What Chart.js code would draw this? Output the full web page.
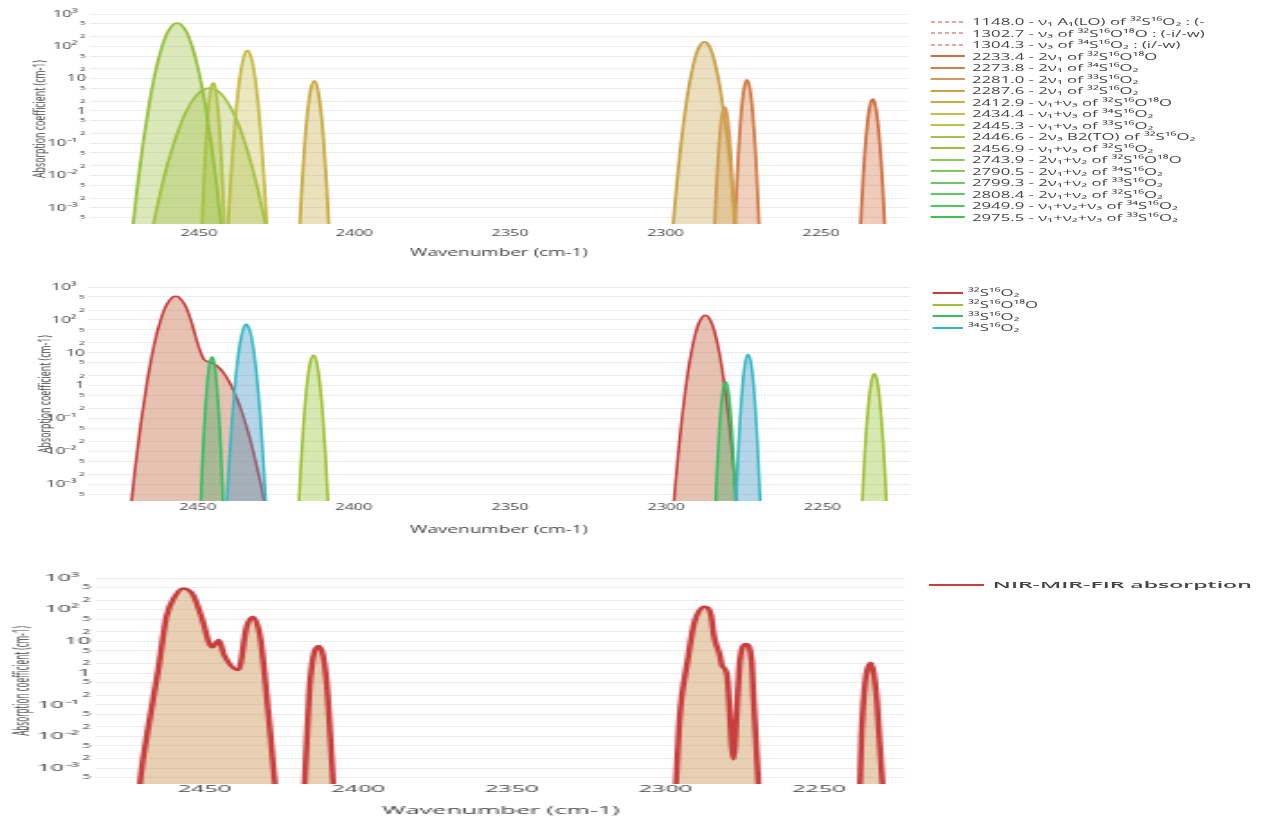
<!DOCTYPE html>
<html>
<head>
<meta charset="utf-8">
<title>SO2 absorption 2220–2485 cm-1</title>
<script src="https://cdn.jsdelivr.net/npm/chart.js@4.4.1/dist/chart.umd.min.js"></script>
<style>
  html, body { margin: 0; padding: 0; background: #fff; }
  body { width: 1265px; height: 820px; position: relative; overflow: hidden; font-family: 'Open Sans', sans-serif; }
  .panel { position: absolute; left: 0; transform-origin: 0 0; }
  .panel canvas { position: absolute; left: 0; top: 0; }
  .legend { position: absolute; color: #444; font-family: 'Open Sans', sans-serif; white-space: nowrap; }
  .legend .row { display: flex; align-items: center; }
  .legend .swatch { display: inline-block; flex: none; }
  .legend .txt { line-height: 1; }
</style>
</head>
<body>

<div class="panel" id="panelBands" style="top:0;width:703px;height:265px;transform:scaleX(1.8)">
  <canvas id="chartBands" width="703" height="265" style="width:703px;height:265px"></canvas>
  <div class="legend" id="legendBands"></div>
</div>

<div class="panel" id="panelIso" style="top:270px;width:703px;height:270px;transform:scaleX(1.8)">
  <canvas id="chartIso" width="703" height="270" style="width:703px;height:270px"></canvas>
  <div class="legend" id="legendIso"></div>
</div>

<div class="panel" id="panelTotal" style="top:560px;width:527px;height:260px;transform:scaleX(2.4)">
  <canvas id="chartTotal" width="527" height="260" style="width:527px;height:260px"></canvas>
  <div class="legend" id="legendTotal"></div>
</div>

<script>
// ---- axes ----
const wavenumberRange = [2222, 2485];
const wavenumberTicks = [2450, 2400, 2350, 2300, 2250];
const absorptionRange = [3.16e-4, 1000];
const absorptionTicks = [5e-4, 1e-3, 2e-3, 5e-3, 1e-2, 2e-2, 5e-2, 0.1, 0.2, 0.5,
                         1, 2, 5, 10, 20, 50, 100, 200, 500, 1000];

// ---- individual bands (wavenumber in cm-1, absorption coefficient in cm-1) ----
const wn_2456_9  = [2472, 2470, 2468, 2466, 2464, 2462, 2460, 2458, 2456.9, 2456, 2454, 2452, 2450, 2448, 2446, 2444, 2442];
const abs_2456_9 = [5.5e-5, 3.0e-3, 0.093, 1.6, 16, 88, 280, 490, 525, 490, 280, 88, 16, 1.6, 0.093, 3.0e-3, 5.5e-5];

const wn_2446_6  = [2468, 2466, 2464, 2462, 2460, 2458, 2456, 2454, 2452, 2450, 2448, 2446.6, 2445, 2443, 2441, 2439, 2437, 2435, 2433, 2431, 2429, 2427];
const abs_2446_6 = [5.8e-6, 6.6e-5, 5.9e-4, 4.3e-3, 0.024, 0.10, 0.36, 1.0, 2.1, 3.6, 4.8, 5.1, 4.8, 3.5, 2.0, 0.91, 0.32, 0.091, 0.020, 3.5e-3, 4.8e-4, 5.1e-5];

const wn_2445_3  = [2449.5, 2449, 2448.5, 2448, 2447.5, 2447, 2446.5, 2446, 2445.3, 2445, 2444.5, 2444, 2443.5, 2443, 2442.5, 2442, 2441.5];
const abs_2445_3 = [1.1e-5, 2.3e-4, 3.5e-3, 0.033, 0.22, 0.95, 2.8, 5.6, 7.4, 6.5, 3.9, 1.5, 0.42, 0.074, 8.9e-3, 7.2e-4, 3.9e-5];

const wn_2434_4  = [2441, 2440, 2439, 2438, 2437, 2436, 2435, 2434.4, 2434, 2433, 2432, 2431, 2430, 2429, 2428, 2427];
const abs_2434_4 = [6.3e-5, 3.2e-3, 0.083, 1.15, 8.3, 32, 65, 73, 69, 39, 11.5, 1.8, 0.15, 6.5e-3, 1.5e-4, 2e-6];

const wn_2412_9  = [2418, 2417, 2416, 2415, 2414, 2412.9, 2412, 2411, 2410, 2409, 2408, 2407];
const abs_2412_9 = [4e-5, 3.0e-3, 0.091, 1.07, 4.8, 8.5, 5.8, 1.55, 0.16, 6.5e-3, 1.0e-4, 6e-7];

const wn_2287_6  = [2299, 2298, 2297, 2296, 2295, 2294, 2293, 2292, 2291, 2290, 2289, 2288, 2287.6, 2287, 2286, 2285, 2284, 2283, 2282, 2281, 2280, 2279, 2278, 2277, 2276];
const abs_2287_6 = [5e-6, 9e-5, 1.2e-3, 0.012, 0.098, 0.59, 2.8, 10, 28, 62, 103, 134, 138, 134, 103, 62, 28, 10, 2.8, 0.59, 0.098, 0.012, 1.2e-3, 9e-5, 5e-6];

const wn_2281_0  = [2284.5, 2284, 2283.5, 2283, 2282.5, 2282, 2281.5, 2281, 2280.5, 2280, 2279.5, 2279, 2278.5, 2278, 2277.5];
const abs_2281_0 = [5e-5, 7.4e-4, 7.2e-3, 0.047, 0.2, 0.56, 1.05, 1.3, 1.05, 0.56, 0.2, 0.047, 7.2e-3, 7.4e-4, 5e-5];

const wn_2273_8  = [2278, 2277.5, 2277, 2276.5, 2276, 2275.5, 2275, 2274.5, 2273.8, 2273, 2272.5, 2272, 2271.5, 2271, 2270.5, 2270, 2269.5];
const abs_2273_8 = [4.7e-5, 7.1e-4, 7.8e-3, 0.059, 0.32, 1.23, 3.4, 6.5, 9.1, 5.9, 2.8, 0.98, 0.23, 0.041, 4.9e-3, 4.3e-4, 2.6e-5];

const wn_2233_4  = [2238, 2237.5, 2237, 2236.5, 2236, 2235.5, 2235, 2234.5, 2234, 2233.4, 2233, 2232.5, 2232, 2231.5, 2231, 2230.5, 2230, 2229.5, 2229];
const abs_2233_4 = [7e-6, 1e-4, 9.8e-4, 7.2e-3, 0.04, 0.16, 0.49, 1.1, 1.85, 2.3, 2.1, 1.4, 0.71, 0.26, 0.072, 0.015, 2.3e-3, 2.6e-4, 2.1e-5];

// ---- 32S16O2 combined 2456.9 + 2446.6 region ----
const wn_32S16O2_combo  = [2472, 2470, 2468, 2466, 2464, 2462, 2460, 2458, 2456.9, 2456, 2454, 2452, 2450, 2448, 2446, 2444, 2442, 2440, 2438, 2436, 2434, 2432, 2430, 2428, 2426];
const abs_32S16O2_combo = [5.5e-5, 3.0e-3, 0.093, 1.6, 16, 88, 280, 490, 525, 490, 281, 90, 19.6, 6.4, 5.2, 4.2, 2.7, 1.4, 0.56, 0.18, 0.045, 8.7e-3, 1.3e-3, 1.6e-4, 1.5e-5];

// ---- total NIR-MIR-FIR absorption ----
const wn_total  = [2472, 2471, 2468.3, 2465.1, 2462.4, 2459.7, 2456.9, 2453.7, 2451, 2447.5, 2445.3, 2443.6, 2439, 2436.3, 2434.2, 2431.7, 2429.3, 2427.1, 2426,
                   2418.5, 2417.4, 2415.8, 2412.8, 2410.3, 2408.1, 2407,
                   2297.5, 2296.5, 2295.4, 2292.7, 2290.6, 2287.3, 2285.1, 2284.1, 2282.1, 2281.6, 2279.9, 2277.8, 2276.4, 2275.7, 2273.7, 2271.9, 2271.2, 2269.7, 2268.8,
                   2237.5, 2236.6, 2236.1, 2233.1, 2231.1, 2229.3, 2228.5];
const abs_total = [2e-5, 3.4e-4, 0.02, 1.24, 60, 257, 470, 290, 60, 6.5, 11, 3.7, 1.24, 29, 60, 11, 0.068, 3.4e-4, 1e-5,
                   1e-5, 3.4e-4, 0.37, 7.1, 0.6, 3.4e-4, 1e-5,
                   1e-5, 3.4e-4, 0.033, 2.6, 37, 123, 68, 14, 3.3, 1.8, 0.87, 1.9e-3, 0.23, 2.6, 8.3, 2.6, 0.14, 3.4e-4, 1e-5,
                   1e-5, 3.4e-4, 0.0126, 2.1, 0.14, 3.4e-4, 1e-5];

// ---- labels ----
const bandLabels = [
  '1148.0 - ν₁ A₁(LO) of ³²S¹⁶O₂ : (-',
  '1302.7 - ν₃ of ³²S¹⁶O¹⁸O : (-i/-w)',
  '1304.3 - ν₃ of ³⁴S¹⁶O₂ : (i/-w)',
  '2233.4 - 2ν₁ of ³²S¹⁶O¹⁸O',
  '2273.8 - 2ν₁ of ³⁴S¹⁶O₂',
  '2281.0 - 2ν₁ of ³³S¹⁶O₂',
  '2287.6 - 2ν₁ of ³²S¹⁶O₂',
  '2412.9 - ν₁+ν₃ of ³²S¹⁶O¹⁸O',
  '2434.4 - ν₁+ν₃ of ³⁴S¹⁶O₂',
  '2445.3 - ν₁+ν₃ of ³³S¹⁶O₂',
  '2446.6 - 2ν₃ B2(TO) of ³²S¹⁶O₂',
  '2456.9 - ν₁+ν₃ of ³²S¹⁶O₂',
  '2743.9 - 2ν₁+ν₂ of ³²S¹⁶O¹⁸O',
  '2790.5 - 2ν₁+ν₂ of ³⁴S¹⁶O₂',
  '2799.3 - 2ν₁+ν₂ of ³³S¹⁶O₂',
  '2808.4 - 2ν₁+ν₂ of ³²S¹⁶O₂',
  '2949.9 - ν₁+ν₂+ν₃ of ³⁴S¹⁶O₂',
  '2975.5 - ν₁+ν₂+ν₃ of ³³S¹⁶O₂'
];
const isotopologueLabels = ['³²S¹⁶O₂', '³²S¹⁶O¹⁸O', '³³S¹⁶O₂', '³⁴S¹⁶O₂'];
const totalLabel = 'NIR-MIR-FIR absorption';

// ---- styling ----
const FONT = "'Open Sans', sans-serif";
const bandColors = [
  [222, 100, 100], [222, 100, 100], [222, 100, 100],
  [207, 112, 66], [210, 124, 70], [212, 152, 92], [200, 163, 74],
  [200, 172, 70], [200, 188, 74], [184, 195, 74], [165, 195, 74], [152, 192, 65],
  [140, 200, 90], [125, 200, 95], [110, 200, 100], [95, 200, 100], [80, 200, 95], [65, 195, 80]
];
const isoLine = ['rgb(198,62,62)', 'rgb(160,190,50)', 'rgb(55,190,100)', 'rgb(55,185,195)'];
const isoFill = ['rgba(200,120,85,0.45)', 'rgba(150,200,60,0.4)', 'rgba(60,165,100,0.35)', 'rgba(70,150,200,0.4)'];

const rgb = (c, a) => a === undefined ? `rgb(${c[0]},${c[1]},${c[2]})` : `rgba(${c[0]},${c[1]},${c[2]},${a})`;
const pts = (wn, k) => wn.map((x, i) => ({ x, y: k[i] }));

const SUP = { '-': '⁻', '0': '⁰', '1': '¹', '2': '²', '3': '³', '4': '⁴', '5': '⁵', '6': '⁶', '7': '⁷', '8': '⁸', '9': '⁹' };
function decade(v) { return Math.floor(Math.log10(v) + 1e-6); }
function logTickLabel(v) {
  const e = decade(v);
  const m = Math.round(v / Math.pow(10, e));
  if (m !== 1) return String(m);
  if (e === 0) return '1';
  if (e === 1) return '10';
  return '10' + String(e).split('').map(ch => SUP[ch]).join('') + '\u2002';
}
function isDecade(v) { return Math.round(v / Math.pow(10, decade(v))) === 1; }

// Band grid: the three dashed bands and the overtone bands above 2700 cm-1 lie outside this window.
const bandSeries = {
  3: pts(wn_2233_4, abs_2233_4),
  4: pts(wn_2273_8, abs_2273_8),
  5: pts(wn_2281_0, abs_2281_0),
  6: pts(wn_2287_6, abs_2287_6),
  7: pts(wn_2412_9, abs_2412_9),
  8: pts(wn_2434_4, abs_2434_4),
  9: pts(wn_2445_3, abs_2445_3),
  10: pts(wn_2446_6, abs_2446_6),
  11: pts(wn_2456_9, abs_2456_9)
};

function makeChart(canvasId, datasets, g) {
  return new Chart(document.getElementById(canvasId), {
    type: 'line',
    data: { datasets },
    options: {
      responsive: false,
      animation: false,
      devicePixelRatio: 1,
      events: [],
      layout: { padding: { left: 0, top: g.top, right: g.width - g.right, bottom: 0 } },
      elements: {
        point: { radius: 0, hoverRadius: 0 },
        line: { cubicInterpolationMode: 'monotone', capBezierPoints: false, borderJoinStyle: 'round', borderCapStyle: 'round' }
      },
      plugins: { legend: { display: false }, tooltip: { enabled: false } },
      scales: {
        x: {
          type: 'linear', reverse: true, bounds: 'data',
          min: wavenumberRange[0], max: wavenumberRange[1],
          grid: { display: false, drawTicks: false },
          border: { display: false },
          afterBuildTicks: s => { s.ticks = wavenumberTicks.map(v => ({ value: v })); },
          afterFit: s => { s.height = g.height - g.bottom; },
          ticks: {
            autoSkip: false, maxRotation: 0, padding: g.xTickPad, color: '#444',
            font: { family: FONT, size: g.xTickSize, lineHeight: 1 },
            callback: v => String(v)
          },
          title: {
            display: true, text: 'Wavenumber (cm-1)', color: '#444',
            font: { family: FONT, size: g.xTitleSize, lineHeight: 1.2 },
            padding: { top: 0, bottom: g.xTitlePad }
          }
        },
        y: {
          type: 'logarithmic', bounds: 'data',
          min: absorptionRange[0], max: absorptionRange[1],
          grid: { color: '#ececec', lineWidth: 1, drawTicks: false },
          border: { display: false },
          afterBuildTicks: s => { s.ticks = absorptionTicks.map(v => ({ value: v })); },
          afterFit: s => { s.width = g.left; },
          ticks: {
            autoSkip: false, padding: g.yTickPad, color: '#444',
            font: ctx => ({ family: FONT, lineHeight: 1,
              size: (ctx.tick && !isDecade(ctx.tick.value)) ? g.yMinorSize : g.yTickSize }),
            callback: v => logTickLabel(v)
          },
          title: {
            display: true, text: 'Absorption coefficient (cm-1)', color: '#444',
            font: { family: FONT, size: g.yTitleSize, lineHeight: 1.2 },
            padding: { top: g.yTitlePad, bottom: 0 }
          }
        }
      }
    }
  });
}

// HTML legend built from the chart's own legend items
function buildLegend(chart, elId, g) {
  const el = document.getElementById(elId);
  el.style.left = g.legendX + 'px';
  el.style.top = Math.round(g.legendY - g.legendRow / 2) + 'px';
  const items = Chart.defaults.plugins.legend.labels.generateLabels(chart)
    .sort((a, b) => a.datasetIndex - b.datasetIndex);
  items.forEach(item => {
    const row = document.createElement('div');
    row.className = 'row';
    row.style.height = g.legendRow + 'px';
    const sw = document.createElement('span');
    sw.className = 'swatch';
    sw.style.width = g.swatchW + 'px';
    sw.style.height = g.swatchLine + 'px';
    const dash = item.lineDash && item.lineDash.length ? item.lineDash : null;
    if (dash) {
      const period = dash[0] + dash[1];
      sw.style.background = `repeating-linear-gradient(to right, ${item.strokeStyle} 0 ${dash[0]}px, transparent ${dash[0]}px ${period}px)`;
    } else {
      sw.style.background = item.strokeStyle;
    }
    sw.style.marginRight = g.swatchGap + 'px';
    const tx = document.createElement('span');
    tx.className = 'txt';
    tx.textContent = item.text;
    tx.style.fontSize = g.legendFont + 'px';
    if (g.legendWeight) tx.style.fontWeight = g.legendWeight;
    row.append(sw, tx);
    el.appendChild(row);
  });
}

// ---- panel 1: individual vibrational bands ----
const gBands = {
  width: 703, height: 265, left: 50, right: 504.5, top: 14, bottom: 224,
  xTickPad: 4.6, xTickSize: 9, yTickSize: 9.4, yMinorSize: 6, yTickPad: 2.2,
  xTitleSize: 10.5, xTitlePad: 5.7, yTitleSize: 8.8, yTitlePad: 16.8,
  legendX: 516.7, legendY: 21.5, legendRow: 11.5, swatchW: 19.3, swatchGap: 4, swatchLine: 2, legendFont: 9.3
};
const bandDatasets = bandLabels.map((label, i) => ({
  label,
  data: bandSeries[i] || [],
  borderColor: i < 3 ? rgb(bandColors[i], 0.6) : rgb(bandColors[i]),
  backgroundColor: rgb(bandColors[i], 0.36),
  borderDash: i < 3 ? [2.4, 1.5] : [],
  borderWidth: 1.8,
  fill: 'start',
  clip: 0,
  order: bandLabels.length - i
}));
const chartBands = makeChart('chartBands', bandDatasets, gBands);
buildLegend(chartBands, 'legendBands', gBands);

// ---- panel 2: by isotopologue ----
const gIso = {
  width: 703, height: 270, left: 49, right: 505.5, top: 17, bottom: 231,
  xTickPad: 1.6, xTickSize: 9, yTickSize: 9.4, yMinorSize: 6, yTickPad: 1.8,
  xTitleSize: 10.5, xTitlePad: 3.7, yTitleSize: 8.8, yTitlePad: 20.6,
  legendX: 517.8, legendY: 23, legendRow: 11.7, swatchW: 17.2, swatchGap: 2.8, swatchLine: 2, legendFont: 9.3
};
const isoData = [
  pts(wn_32S16O2_combo, abs_32S16O2_combo).concat(pts(wn_2287_6, abs_2287_6)),
  pts(wn_2412_9, abs_2412_9).concat(pts(wn_2233_4, abs_2233_4)),
  pts(wn_2445_3, abs_2445_3).concat(pts(wn_2281_0, abs_2281_0)),
  pts(wn_2434_4, abs_2434_4).concat(pts(wn_2273_8, abs_2273_8))
];
const isoDatasets = isotopologueLabels.map((label, i) => ({
  label,
  data: isoData[i],
  borderColor: isoLine[i],
  backgroundColor: isoFill[i],
  borderWidth: 1.6,
  fill: 'start',
  clip: 0,
  order: isotopologueLabels.length - i
}));
const chartIso = makeChart('chartIso', isoDatasets, gIso);
buildLegend(chartIso, 'legendIso', gIso);

// ---- panel 3: total absorption ----
const gTotal = {
  width: 527, height: 260, left: 40.4, right: 377, top: 18, bottom: 224,
  xTickPad: 0.3, xTickSize: 9.8, yTickSize: 9.8, yMinorSize: 6.2, yTickPad: 2.5,
  xTitleSize: 10.5, xTitlePad: 2.7, yTitleSize: 8.2, yTitlePad: 4.6,
  legendX: 387, legendY: 25, legendRow: 12, swatchW: 22.6, swatchGap: 4.1, swatchLine: 2, legendFont: 9.6, legendWeight: 600
};
const chartTotal = makeChart('chartTotal', [{
  label: totalLabel,
  data: pts(wn_total, abs_total),
  borderColor: 'rgb(200,62,62)',
  backgroundColor: 'rgba(205,150,90,0.45)',
  borderWidth: 2.5,
  fill: 'start',
  clip: 0
}], gTotal);
buildLegend(chartTotal, 'legendTotal', gTotal);
</script>
</body>
</html>
